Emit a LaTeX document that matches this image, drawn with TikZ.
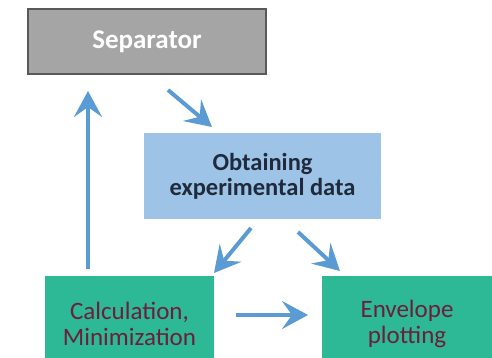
\documentclass[tikz,border=0pt]{standalone}
\usepackage{fontspec}
\setmainfont{Carlito}
\usetikzlibrary{arrows.meta,shadows}
\definecolor{sepfill}{HTML}{A5A5A5}
\definecolor{sepdraw}{HTML}{595959}
\definecolor{obtfill}{HTML}{9DC3E6}
\definecolor{grnfill}{HTML}{2DB896}
\definecolor{arrowc}{HTML}{5B9BD5}
\definecolor{obttext}{HTML}{1F2A3C}
\definecolor{grntext}{HTML}{6B1F3A}
\tikzset{
  flow/.style={draw=arrowc, line width=4pt,
    -{Stealth[length=26pt, width=28pt, inset=10pt]}},
  box/.style={inner sep=0pt, align=center, font=\fontsize{25}{26}\selectfont},
}
\begin{document}
\begin{tikzpicture}[x=1pt, y=-1pt]
\useasboundingbox (0,0) rectangle (492,358);
\node[box, fill=sepfill, draw=sepdraw, line width=1.2pt, minimum width=238pt, minimum height=65pt,
  text=white, font=\fontsize{27}{28}\selectfont\bfseries] (sep) at (147,41.5) {\raisebox{-4pt}{Separator}};
\node[box, fill=obtfill, minimum width=237pt, minimum height=86pt, text=obttext,
  font=\fontsize{24.5}{25}\selectfont\bfseries] (obt) at (262.5,176) {Obtaining\\experimental data};
\node[box, fill=grnfill, minimum width=169pt, minimum height=96pt, text=grntext] (calc) at (129.5,324) {Calculation,\\Minimization};
\node[box, fill=grnfill, minimum width=170pt, minimum height=96pt, text=grntext] (env) at (407,324) {Envelope\\plotting};
\coordinate (upstart) at (88,269);
\coordinate (uptip) at (88,91);
\coordinate (s1) at (168,90);
\coordinate (t1) at (212,127);
\coordinate (s2) at (251,228);
\coordinate (t2) at (214,273);
\coordinate (s3) at (298,232);
\coordinate (t3) at (340,271);
\coordinate (s4) at (236,315);
\coordinate (t4) at (308,315);
\draw[flow] (upstart) -- (uptip);
\draw[flow] (s1) -- (t1);
\draw[flow] (s2) -- (t2);
\draw[flow] (s3) -- (t3);
\draw[flow] (s4) -- (t4);
\end{tikzpicture}
\end{document}
